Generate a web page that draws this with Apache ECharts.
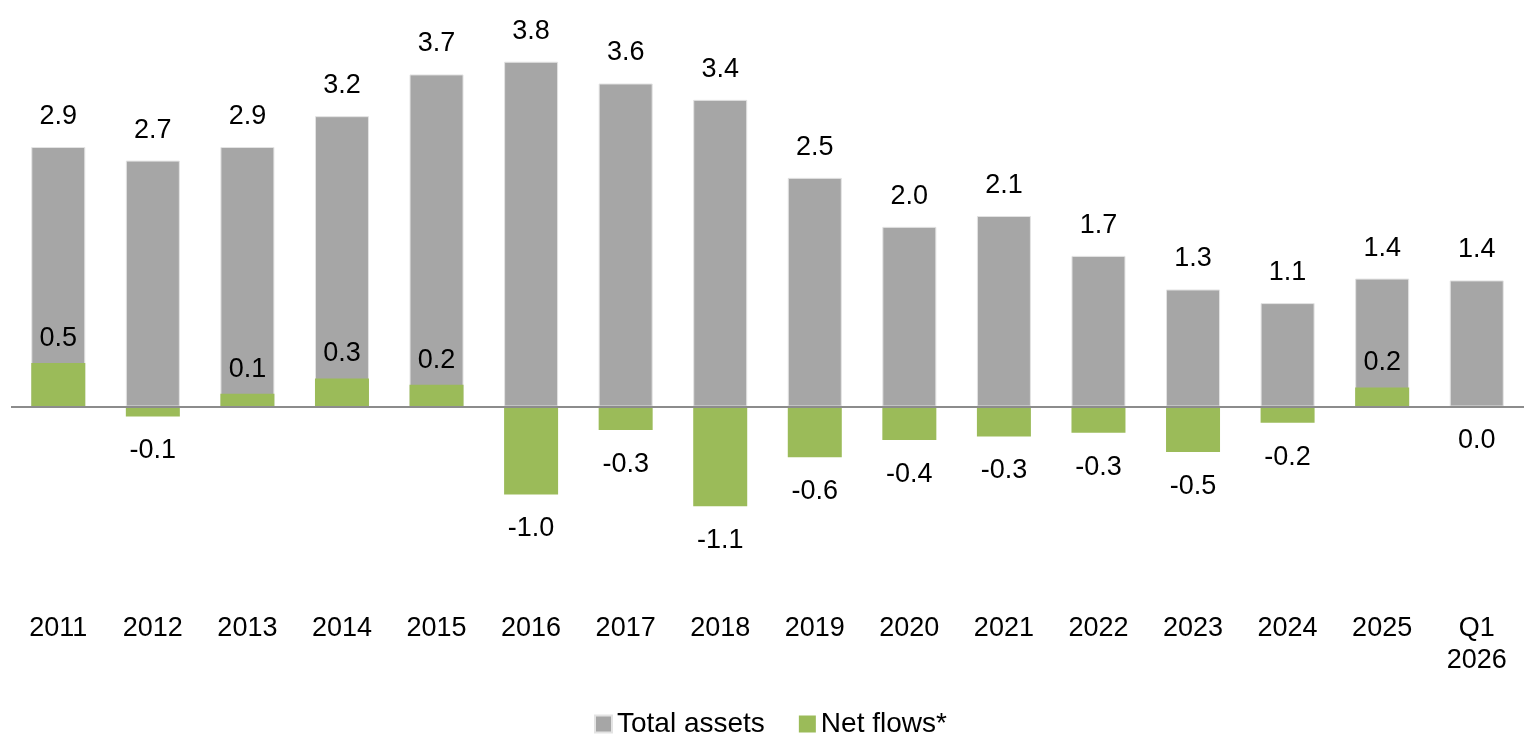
<!DOCTYPE html>
<html>
<head>
<meta charset="utf-8">
<script src="https://cdn.jsdelivr.net/npm/echarts@6/dist/echarts.min.js"></script>
<style>
  html, body { margin: 0; padding: 0; background: #fff; }
  #chart { width: 1524px; height: 734px; }
</style>
</head>
<body>
<div id="chart"></div>
<script>
var categories = ['2011', '2012', '2013', '2014', '2015', '2016', '2017', '2018', '2019', '2020', '2021', '2022', '2023', '2024', '2025', 'Q1\n2026']
var totalAssets = [2.86, 2.71, 2.86, 3.2, 3.66, 3.8, 3.56, 3.38, 2.52, 1.98, 2.1, 1.66, 1.29, 1.14, 1.41, 1.39]
var netFlows = [0.48, -0.11, 0.14, 0.31, 0.24, -0.97, -0.26, -1.1, -0.56, -0.37, -0.33, -0.29, -0.5, -0.18, 0.21, 0]

var FONT = '"Liberation Sans", Arial, sans-serif'

var chart = echarts.init(document.getElementById('chart'))

// green labels go above positive bars, below negative / zero ones
var flowData = netFlows.map(function (v) {
  return {
    value: v,
    label: v > 0 ? { position: 'top', distance: 11 } : { position: 'bottom', distance: 21 }
  }
})

chart.setOption({
  backgroundColor: '#ffffff',
  animation: false,
  textStyle: { fontFamily: FONT },
  grid: {
    left: 11,
    width: 1516,
    top: 10,
    height: 578
  },
  legend: {
    left: 589,
    top: 705,
    itemWidth: 17,
    itemHeight: 17,
    itemGap: 34,
    itemTextGap: 7,
    icon: 'rect',
    textStyle: { fontSize: 28, color: '#000', fontFamily: FONT },
    data: ['Total assets', 'Net flows*']
  },
  xAxis: {
    type: 'category',
    data: categories,
    axisLine: { show: false },
    axisTick: { show: false },
    axisLabel: {
      fontSize: 27,
      color: '#000',
      margin: 25,
      lineHeight: 32,
      interval: 0,
      fontFamily: FONT
    }
  },
  yAxis: {
    type: 'value',
    min: -2.0,
    max: 4.37,
    show: false,
    splitLine: { show: false }
  },
  series: [{
    name: 'Total assets',
    type: 'bar',
    barWidth: 54,
    data: totalAssets,
    itemStyle: { color: '#a6a6a6', borderColor: '#e3e3e3', borderWidth: 1 },
    label: {
      show: true,
      position: 'top',
      distance: 17,
      fontSize: 27,
      color: '#000',
      fontFamily: FONT,
      formatter: function (p) { return p.value.toFixed(1) }
    },
    markLine: {
      silent: true,
      symbol: 'none',
      label: { show: false },
      lineStyle: { color: '#8c8c8c', width: 2, type: 'solid' },
      data: [{ yAxis: 0 }]
    },
    z: 2
  }, {
    name: 'Net flows*',
    type: 'bar',
    barWidth: 54,
    barGap: '-100%',
    data: flowData,
    itemStyle: { color: '#9bbb59' },
    label: {
      show: true,
      fontSize: 27,
      color: '#000',
      fontFamily: FONT,
      formatter: function (p) { return p.value.toFixed(1) }
    },
    z: 3
  }]
})
</script>
</body>
</html>
